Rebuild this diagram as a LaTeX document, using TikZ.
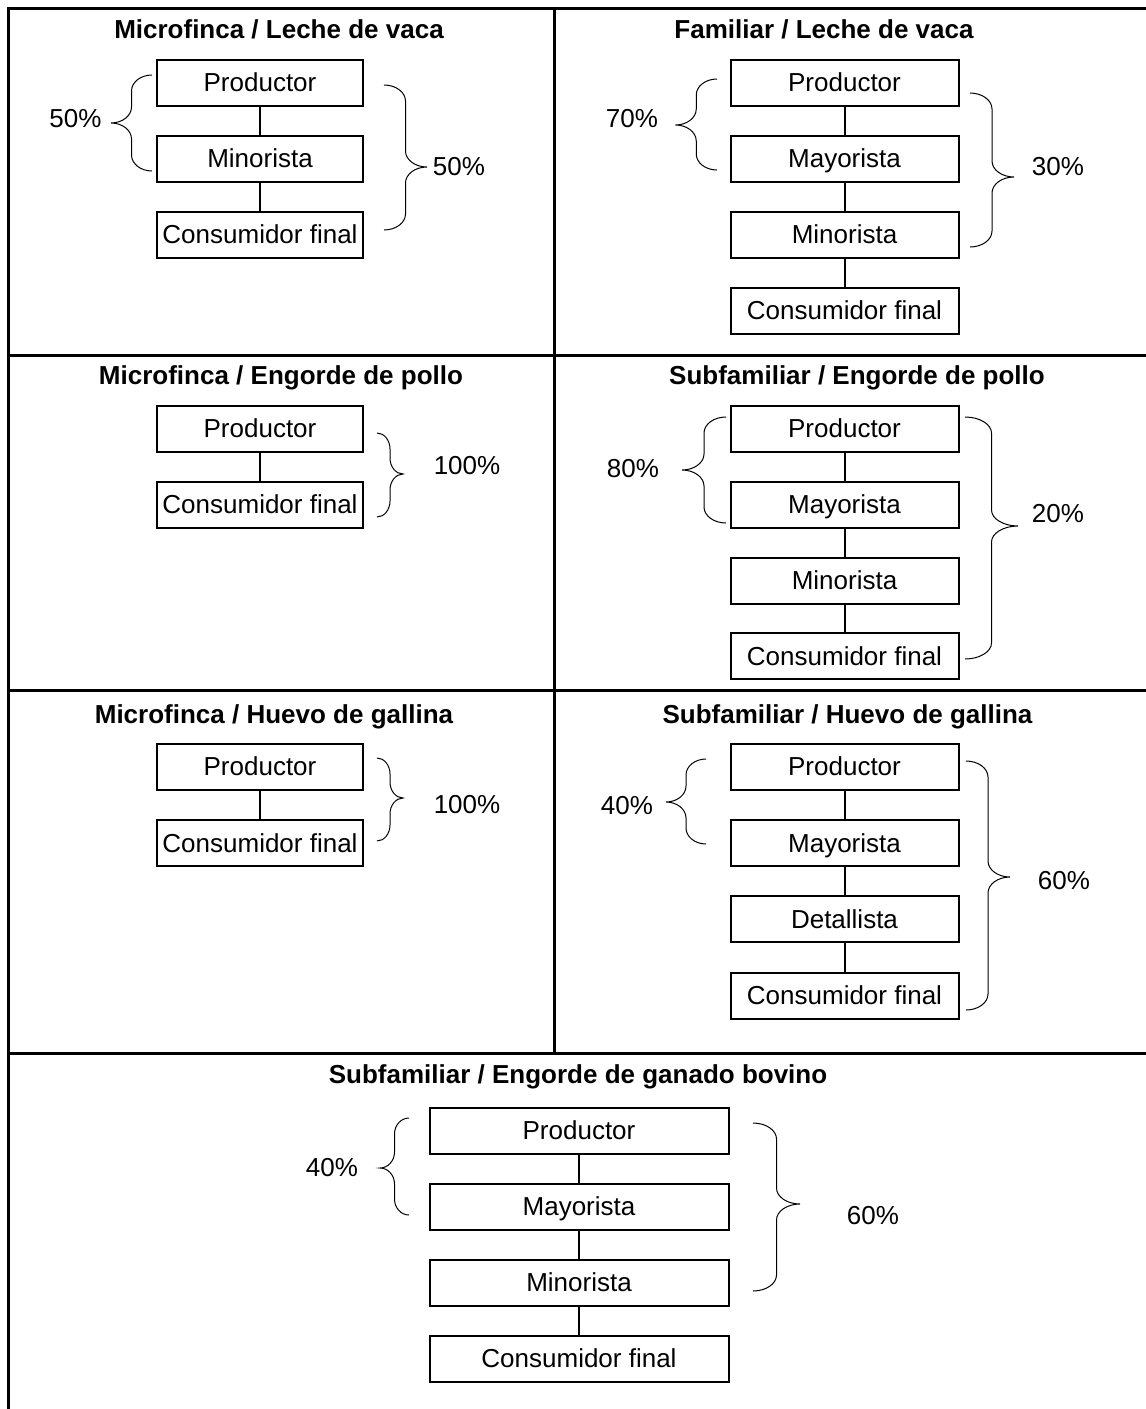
\documentclass[tikz,border=0pt]{standalone}
\usepackage{fontspec}
\setmainfont{Liberation Sans}
\begin{document}
\begin{tikzpicture}[x=1pt,y=-1pt,
  frame/.style={line width=3pt},
  chainbox/.style={draw,line width=2pt,inner sep=0pt,minimum height=46pt,align=center,
     font=\fontsize{26}{30}\selectfont,text height=18.6pt,text depth=0pt},
  conn/.style={line width=2pt},
  bracestyle/.style={line width=1pt},
  pct/.style={inner sep=0pt,font=\fontsize{26}{30}\selectfont,text height=18.6pt,text depth=0pt},
  ttl/.style={inner sep=0pt,font=\fontsize{26}{30}\selectfont\bfseries,text height=18.6pt,text depth=0pt}]
\useasboundingbox (0,0) rectangle (1146,1409);
\newcommand\brc[5]{%
  \pgfmathsetmacro\xm{(#1+#2)/2}%
  \pgfmathsetmacro\ka{#1+0.552*(\xm-#1)}%
  \pgfmathsetmacro\kb{#2+0.552*(\xm-#2)}%
  \draw[bracestyle] (#1,#3) .. controls (\ka,#3) and (\xm,#3+7.2) .. (\xm,#3+16) -- (\xm,#4-16)
    .. controls (\xm,#4-7.2) and (\kb,#4) .. (#2,#4) .. controls (\kb,#4) and (\xm,#4+7.2) .. (\xm,#4+16)
    -- (\xm,#5-16) .. controls (\xm,#5-7.2) and (\ka,#5) .. (#1,#5);}
% frame
\draw[frame] (6.5,8.5) -- (1146,8.5);
\draw[frame] (8,8) -- (8,1409);
\draw[frame] (554,8) -- (554,1053);
\draw[frame] (8,355) -- (1146,355);
\draw[frame] (8,690) -- (1146,690);
\draw[frame] (8,1053) -- (1146,1053);

% ---------- Top left
\node[ttl] (tTL) at (279,29) {Microfinca / Leche de vaca};
\node[chainbox,minimum width=206pt] (a1) at (260,82.5) {Productor};
\node[chainbox,minimum width=206pt] (a2) at (260,158.5) {Minorista};
\node[chainbox,minimum width=206pt] (a3) at (260,234.5) {Consumidor final};
\draw[conn] (a1) -- (a2);
\draw[conn] (a2) -- (a3);
\brc{152}{111}{75}{123}{171}
\brc{384}{427}{85}{167}{230}
\node[pct] (aL) at (75.5,118.5) {50\%};
\node[pct] (aR) at (459,166) {50\%};

% ---------- Top right
\node[ttl] (tTR) at (824,29) {Familiar / Leche de vaca};
\node[chainbox,minimum width=228pt] (b1) at (844.5,82.5) {Productor};
\node[chainbox,minimum width=228pt] (b2) at (844.5,158.5) {Mayorista};
\node[chainbox,minimum width=228pt] (b3) at (844.5,234.5) {Minorista};
\node[chainbox,minimum width=228pt] (b4) at (844.5,310.5) {Consumidor final};
\draw[conn] (b1) -- (b2);
\draw[conn] (b2) -- (b3);
\draw[conn] (b3) -- (b4);
\brc{717}{675.5}{79}{125}{170}
\brc{970}{1014}{93}{177}{247}
\node[pct] (bL) at (632,118) {70\%};
\node[pct] (bR) at (1058,166.5) {30\%};

% ---------- Middle left
\node[ttl] (tML) at (281,375.5) {Microfinca / Engorde de pollo};
\node[chainbox,minimum width=206pt] (c1) at (260,428.5) {Productor};
\node[chainbox,minimum width=206pt] (c2) at (260,504.5) {Consumidor final};
\draw[conn] (c1) -- (c2);
\brc{377}{403}{433}{474}{517}
\node[pct] (cR) at (467,465.5) {100\%};

% ---------- Middle right
\node[ttl] (tMR) at (857,375.5) {Subfamiliar / Engorde de pollo};
\node[chainbox,minimum width=228pt] (d1) at (844.5,428.5) {Productor};
\node[chainbox,minimum width=228pt] (d2) at (844.5,504.5) {Mayorista};
\node[chainbox,minimum width=228pt] (d3) at (844.5,580.5) {Minorista};
\node[chainbox,minimum width=228pt] (d4) at (844.5,656) {Consumidor final};
\draw[conn] (d1) -- (d2);
\draw[conn] (d2) -- (d3);
\draw[conn] (d3) -- (d4);
\brc{726}{682}{417}{470}{523}
\brc{965}{1018}{417}{526}{659}
\node[pct] (dL) at (633,468) {80\%};
\node[pct] (dR) at (1058,513) {20\%};

% ---------- Lower left
\node[ttl] (tLL) at (274,714) {Microfinca / Huevo de gallina};
\node[chainbox,minimum width=206pt] (e1) at (260,766.5) {Productor};
\node[chainbox,minimum width=206pt] (e2) at (260,843) {Consumidor final};
\draw[conn] (e1) -- (e2);
\brc{377}{403}{758}{798}{841}
\node[pct] (eR) at (467,804.5) {100\%};

% ---------- Lower right
\node[ttl] (tLR) at (847.5,714) {Subfamiliar / Huevo de gallina};
\node[chainbox,minimum width=228pt] (f1) at (844.5,766.5) {Productor};
\node[chainbox,minimum width=228pt] (f2) at (844.5,843) {Mayorista};
\node[chainbox,minimum width=228pt] (f3) at (844.5,919) {Detallista};
\node[chainbox,minimum width=228pt] (f4) at (844.5,995.5) {Consumidor final};
\draw[conn] (f1) -- (f2);
\draw[conn] (f2) -- (f3);
\draw[conn] (f3) -- (f4);
\brc{706}{666}{759}{802}{844}
\brc{966}{1010}{761}{877}{1010}
\node[pct] (fL) at (627,805) {40\%};
\node[pct] (fR) at (1064,880.5) {60\%};

% ---------- Bottom
\node[ttl] (tB) at (578,1074.5) {Subfamiliar / Engorde de ganado bovino};
\node[chainbox,minimum width=299pt] (g1) at (579,1130.5) {Productor};
\node[chainbox,minimum width=299pt] (g2) at (579,1206.5) {Mayorista};
\node[chainbox,minimum width=299pt] (g3) at (579,1282.5) {Minorista};
\node[chainbox,minimum width=299pt] (g4) at (579,1358.5) {Consumidor final};
\draw[conn] (g1) -- (g2);
\draw[conn] (g2) -- (g3);
\draw[conn] (g3) -- (g4);
\brc{409}{380}{1118}{1168}{1215}
\brc{753}{800}{1123}{1204}{1291}
\node[pct] (gL) at (332,1167.5) {40\%};
\node[pct] (gR) at (873,1215) {60\%};
\end{tikzpicture}
\end{document}
